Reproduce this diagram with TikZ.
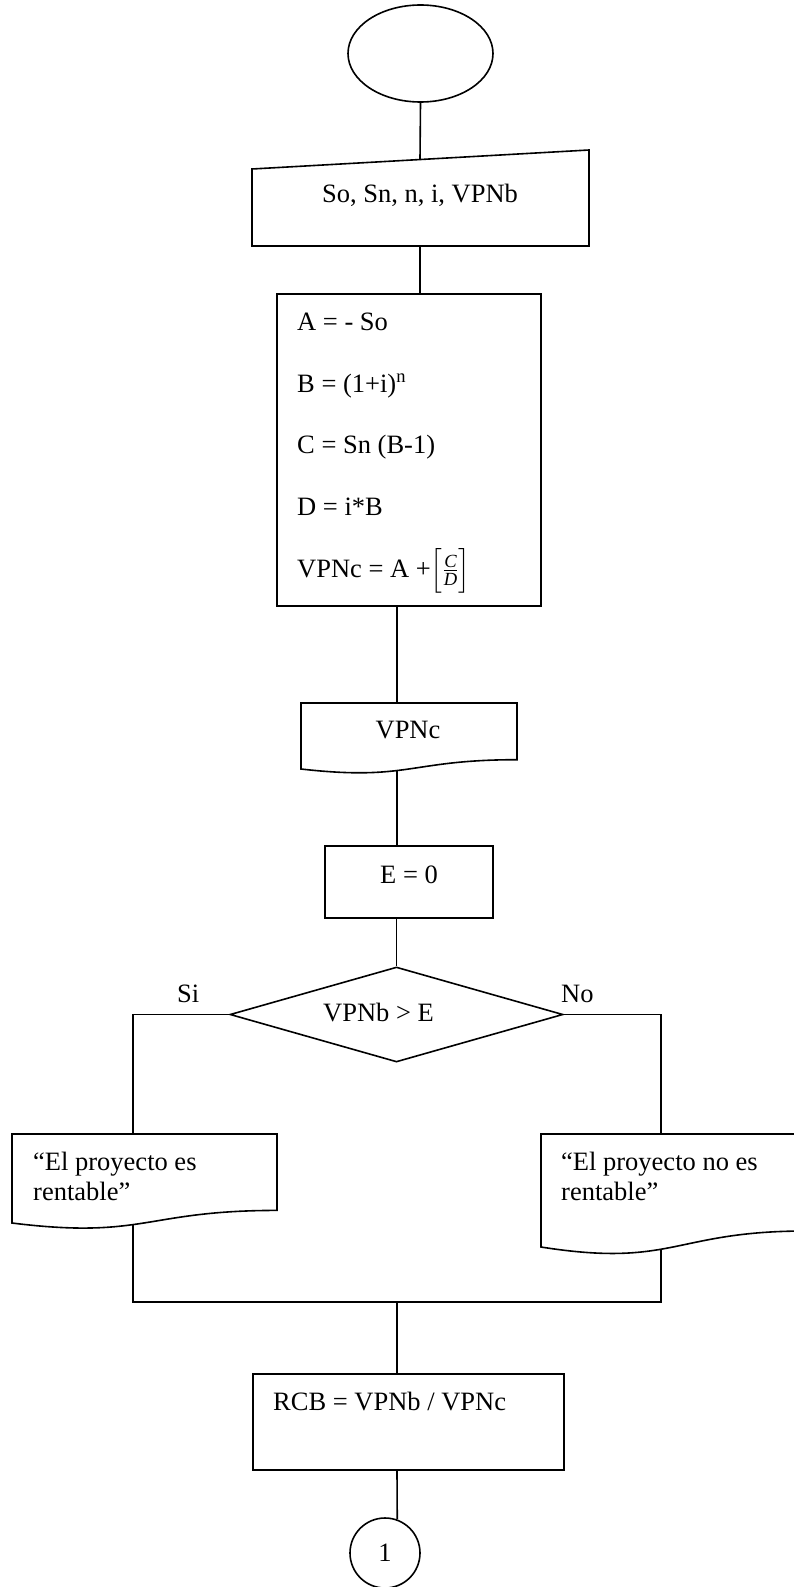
\documentclass[tikz,border=0pt]{standalone}
\usepackage{amsmath}
\usepackage{fontspec}
\setmainfont{Liberation Serif}
\usetikzlibrary{shapes.geometric}
\newcommand{\fsz}{\fontsize{26.5}{30}\selectfont}
\tikzset{
  ln/.style={line width=1.6pt, line join=miter},
  boxnode/.style={draw, ln, rectangle, inner sep=0pt},
  lbl/.style={font=\fsz, inner sep=0pt, anchor=base west},
  lblc/.style={font=\fsz, inner sep=0pt, anchor=base},
}
\begin{document}
\begin{tikzpicture}[x=1pt,y=-1pt]
\useasboundingbox (0,0) rectangle (794,1587);
\fill[white] (0,0) rectangle (794,1587);
\begin{scope}
\clip (0,0) rectangle (794,1587);
% start
\node[draw, ln, ellipse, minimum width=145pt, minimum height=97pt, inner sep=0pt] (start) at (420.5,53.5) {};
% manual input
\draw[ln] (252,169) -- (589,150) -- (589,246) -- (252,246) -- cycle;
\coordinate (inTop) at (420,159.5);
\coordinate (inBot) at (420,246);
\node[lblc] (inT) at (420,202) {So, Sn, n, i, VPNb};
% process
\node[boxnode, minimum width=264pt, minimum height=312pt] (proc) at (409,450) {};
\node[lbl] (p1) at (297,330) {A = - So};
\node[lbl] (p2) at (297,392) {B = (1+i)\textsuperscript{n}};
\node[lbl] (p3) at (297,453) {C = Sn (B-1)};
\node[lbl] (p4) at (297,515) {D = i*B};
\node[lbl] (p5) at (297,577) {VPNc = A +$\Bigl[\frac{\textit{C}}{\textit{D}}\Bigr]$};
% output VPNc
\draw[ln] (301,703) -- (517,703) -- (517,759.7) .. controls (409,759.7) and (409,781.3) .. (301,769) coordinate[pos=0.572] (vdocB) -- cycle;
\coordinate (vTop) at (397,703);
\node[lblc] (vtxt) at (408,738) {VPNc};
% E = 0
\node[boxnode, minimum width=168pt, minimum height=72pt] (E) at (409,882) {};
\node[lblc] (Et) at (409,883) {E = 0};
% decision
\node[draw, ln, diamond, minimum width=333pt, minimum height=95pt, inner sep=0pt] (dec) at (396.5,1014.5) {};
\node[lbl] (dt) at (323,1021) {VPNb > E};
\node[lbl] (si) at (177,1002) {Si};
\node[lbl] (no) at (561,1002) {No};
% documents
\draw[ln] (12,1134) -- (277,1134) -- (277,1210.4) .. controls (144.5,1210.4) and (144.5,1239.5) .. (12,1223) coordinate[pos=0.557] (lB) -- cycle;
\coordinate (lTop) at (133,1134);
\node[lbl] (l1) at (33,1170) {“El proyecto es};
\node[lbl] (l2) at (33,1200) {rentable”};
\draw[ln] (541,1134) -- (806,1134) -- (806,1231) .. controls (673.5,1231) and (673.5,1268) .. (541,1247) coordinate[pos=0.562] (rB) -- cycle;
\coordinate (rTop) at (661,1134);
\node[lbl] (r1) at (561,1170) {“El proyecto no es};
\node[lbl] (r2) at (561,1200) {rentable”};
% RCB
\node[boxnode, minimum width=311pt, minimum height=96pt] (rcb) at (408.5,1422) {};
\node[lbl] (rcbt) at (273,1410) {RCB = VPNb / VPNc};
% connector circle
\node[draw, ln, circle, minimum size=70pt, inner sep=0pt, font=\fsz] (c1) at (385,1553) {1};
\coordinate (join) at (397,1302);
% connectors
\draw[ln] (start.south) -- (inTop);
\draw[ln] (inBot) -- (inBot |- proc.north);
\draw[ln] (vTop |- proc.south) -- (vTop);
\draw[ln] (vdocB) -- (vdocB |- E.north);
\draw[ln] (E.south -| dec.north) -- (dec.north);
\draw[ln] (dec.west) -| (lTop);
\draw[ln] (dec.east) -| (rTop);
\draw[ln] (lB) -- (lB |- join) -- (rB |- join) -- (rB);
\draw[ln] (join) -- (join |- rcb.north);
\draw[ln] (join |- rcb.south) -- (c1.70);
\end{scope}
\end{tikzpicture}
\end{document}
